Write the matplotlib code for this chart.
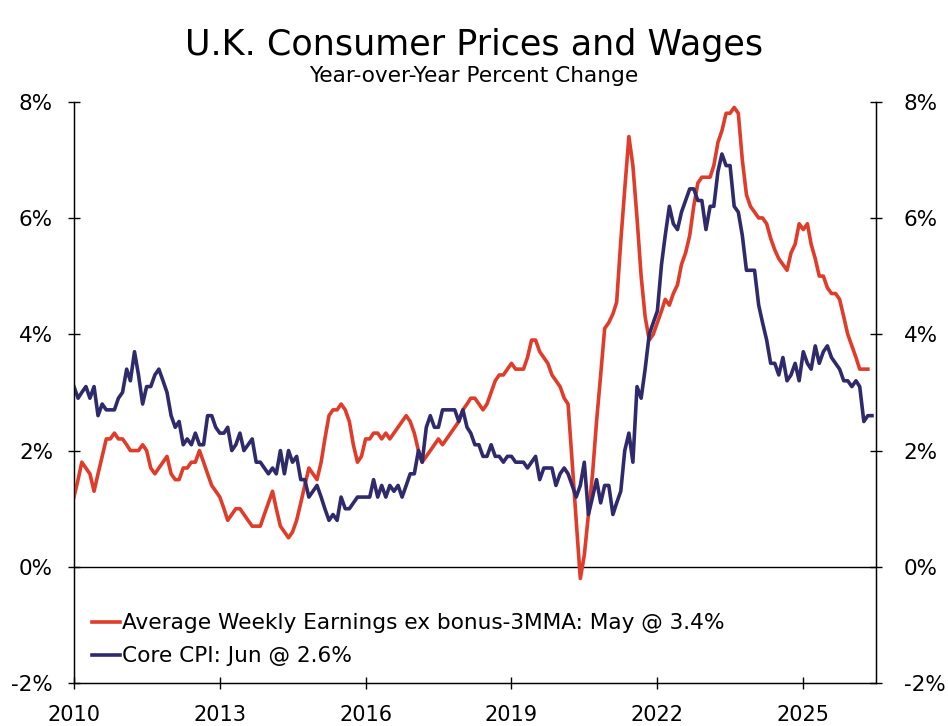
import matplotlib
matplotlib.use("Agg")
import matplotlib.pyplot as plt
import pandas as pd

# UK regular pay (AWE ex bonus, 3MMA) and core CPI, y/y %, monthly from Jan 2010
wages = [
    1.2, 1.5, 1.8, 1.7, 1.6, 1.3, 1.6, 1.9, 2.2, 2.2, 2.3, 2.2,   # 2010
    2.2, 2.1, 2.0, 2.0, 2.0, 2.1, 2.0, 1.7, 1.6, 1.7, 1.8, 1.9,   # 2011
    1.6, 1.5, 1.5, 1.7, 1.7, 1.8, 1.8, 2.0, 1.8, 1.6, 1.4, 1.3,   # 2012
    1.2, 1.0, 0.8, 0.9, 1.0, 1.0, 0.9, 0.8, 0.7, 0.7, 0.7, 0.9,   # 2013
    1.1, 1.3, 1.0, 0.7, 0.6, 0.5, 0.6, 0.8, 1.1, 1.4, 1.7, 1.6,   # 2014
    1.5, 1.8, 2.2, 2.6, 2.7, 2.7, 2.8, 2.7, 2.5, 2.1, 1.8, 1.9,   # 2015
    2.2, 2.2, 2.3, 2.3, 2.2, 2.3, 2.2, 2.3, 2.4, 2.5, 2.6, 2.5,   # 2016
    2.3, 2.0, 1.8, 1.9, 2.0, 2.1, 2.2, 2.1, 2.2, 2.3, 2.4, 2.5,   # 2017
    2.7, 2.8, 2.9, 2.9, 2.8, 2.7, 2.8, 3.0, 3.2, 3.3, 3.3, 3.4,   # 2018
    3.5, 3.4, 3.4, 3.4, 3.6, 3.9, 3.9, 3.7, 3.6, 3.5, 3.3, 3.2,   # 2019
    3.1, 2.9, 2.8, 1.8, 0.8, -0.2, 0.2, 0.9, 1.6, 2.5, 3.3, 4.1,  # 2020
    4.2, 4.35, 4.55, 5.6, 6.5, 7.4, 6.9, 6.0, 5.0, 4.3, 3.9, 4.0, # 2021
    4.2, 4.4, 4.6, 4.5, 4.7, 4.85, 5.2, 5.4, 5.7, 6.2, 6.6, 6.7,  # 2022
    6.7, 6.7, 6.9, 7.3, 7.5, 7.8, 7.8, 7.9, 7.8, 7.0, 6.4, 6.2,   # 2023
    6.1, 6.0, 6.0, 5.9, 5.65, 5.45, 5.3, 5.2, 5.1, 5.4, 5.55, 5.9, # 2024
    5.8, 5.9, 5.55, 5.3, 5.0, 5.0, 4.8, 4.7, 4.7, 4.6, 4.3, 4.0,  # 2025
    3.8, 3.6, 3.4, 3.4, 3.4,                                      # 2026 (to May)
]

core_cpi = [
    3.1, 2.9, 3.0, 3.1, 2.9, 3.1, 2.6, 2.8, 2.7, 2.7, 2.7, 2.9,   # 2010
    3.0, 3.4, 3.2, 3.7, 3.3, 2.8, 3.1, 3.1, 3.3, 3.4, 3.2, 3.0,   # 2011
    2.6, 2.4, 2.5, 2.1, 2.2, 2.1, 2.3, 2.1, 2.1, 2.6, 2.6, 2.4,   # 2012
    2.3, 2.3, 2.4, 2.0, 2.1, 2.3, 2.0, 2.1, 2.2, 1.8, 1.8, 1.7,   # 2013
    1.6, 1.7, 1.6, 2.0, 1.6, 2.0, 1.8, 1.9, 1.5, 1.5, 1.2, 1.3,   # 2014
    1.4, 1.2, 1.0, 0.8, 0.9, 0.8, 1.2, 1.0, 1.0, 1.1, 1.2, 1.2,   # 2015
    1.2, 1.2, 1.5, 1.2, 1.4, 1.2, 1.4, 1.3, 1.4, 1.2, 1.4, 1.6,   # 2016
    1.6, 2.0, 1.8, 2.4, 2.6, 2.4, 2.4, 2.7, 2.7, 2.7, 2.7, 2.5,   # 2017
    2.7, 2.4, 2.3, 2.1, 2.1, 1.9, 1.9, 2.1, 1.9, 1.9, 1.8, 1.9,   # 2018
    1.9, 1.8, 1.8, 1.8, 1.7, 1.8, 1.9, 1.5, 1.7, 1.7, 1.7, 1.4,   # 2019
    1.6, 1.7, 1.6, 1.4, 1.2, 1.4, 1.8, 0.9, 1.2, 1.5, 1.1, 1.4,   # 2020
    1.4, 0.9, 1.1, 1.3, 2.0, 2.3, 1.8, 3.1, 2.9, 3.4, 4.0, 4.2,   # 2021
    4.4, 5.2, 5.7, 6.2, 5.9, 5.8, 6.1, 6.3, 6.5, 6.5, 6.3, 6.3,   # 2022
    5.8, 6.2, 6.2, 6.8, 7.1, 6.9, 6.9, 6.2, 6.1, 5.7, 5.1, 5.1,   # 2023
    5.1, 4.5, 4.2, 3.9, 3.5, 3.5, 3.3, 3.6, 3.2, 3.3, 3.5, 3.2,   # 2024
    3.7, 3.5, 3.4, 3.8, 3.5, 3.7, 3.8, 3.6, 3.5, 3.4, 3.2, 3.2,   # 2025
    3.1, 3.2, 3.1, 2.5, 2.6, 2.6,                                 # 2026 (to Jun)
]

wage_label = "Average Weekly Earnings ex bonus-3MMA: May @ 3.4%"
cpi_label = "Core CPI: Jun @ 2.6%"
year_ticks = [2010, 2013, 2016, 2019, 2022, 2025]
pct_ticks = [-2, 0, 2, 4, 6, 8]

wage_dates = pd.date_range("2010-01-01", periods=len(wages), freq="MS")
cpi_dates = pd.date_range("2010-01-01", periods=len(core_cpi), freq="MS")

red = "#E03C2A"
navy = "#2E2A6C"

plt.rcParams["font.family"] = ["DejaVu Sans"]

fig = plt.figure(figsize=(9.48, 7.26), dpi=100)
ax = fig.add_axes([0.078, 0.059, 0.846, 0.801])

ax.plot(wage_dates, wages, color=red, lw=2.6, label=wage_label, zorder=3)
ax.plot(cpi_dates, core_cpi, color=navy, lw=2.6, label=cpi_label, zorder=3)
ax.axhline(0, color="black", lw=1.0, zorder=2)

ax.set_ylim(-2, 8)
ax.set_xlim(pd.Timestamp("2010-01-01"), pd.Timestamp("2026-07-01"))
ax.set_yticks(pct_ticks)
ax.set_yticklabels([f"{t}%" for t in pct_ticks])
ax.set_xticks([pd.Timestamp(f"{y}-01-01") for y in year_ticks])
ax.set_xticklabels([str(y) for y in year_ticks])

ax.spines["top"].set_visible(False)
for s in ["left", "right", "bottom"]:
    ax.spines[s].set_linewidth(1.0)
ax.tick_params(axis="y", direction="inout", length=8, width=1, labelsize=15.5, pad=11)
ax.tick_params(axis="x", direction="inout", length=8, width=1, labelsize=15, pad=12)

ax2 = ax.twinx()
ax2.set_ylim(-2, 8)
ax2.set_yticks(pct_ticks)
ax2.set_yticklabels([f"{t}%" for t in pct_ticks])
ax2.spines["top"].set_visible(False)
ax2.tick_params(axis="y", direction="inout", length=8, width=1, labelsize=15.5, pad=16)

ax.legend(loc="lower left", bbox_to_anchor=(0.022, 0.029), frameon=False,
          fontsize=15.6, handlelength=1.3, handletextpad=0.1, labelspacing=0.6,
          borderaxespad=0, borderpad=0)

fig.text(0.5, 0.938, "U.K. Consumer Prices and Wages", ha="center", va="center", fontsize=25.2)
fig.text(0.5, 0.895, "Year-over-Year Percent Change", ha="center", va="center", fontsize=15.6)

fig.savefig("out.png", dpi=100)
